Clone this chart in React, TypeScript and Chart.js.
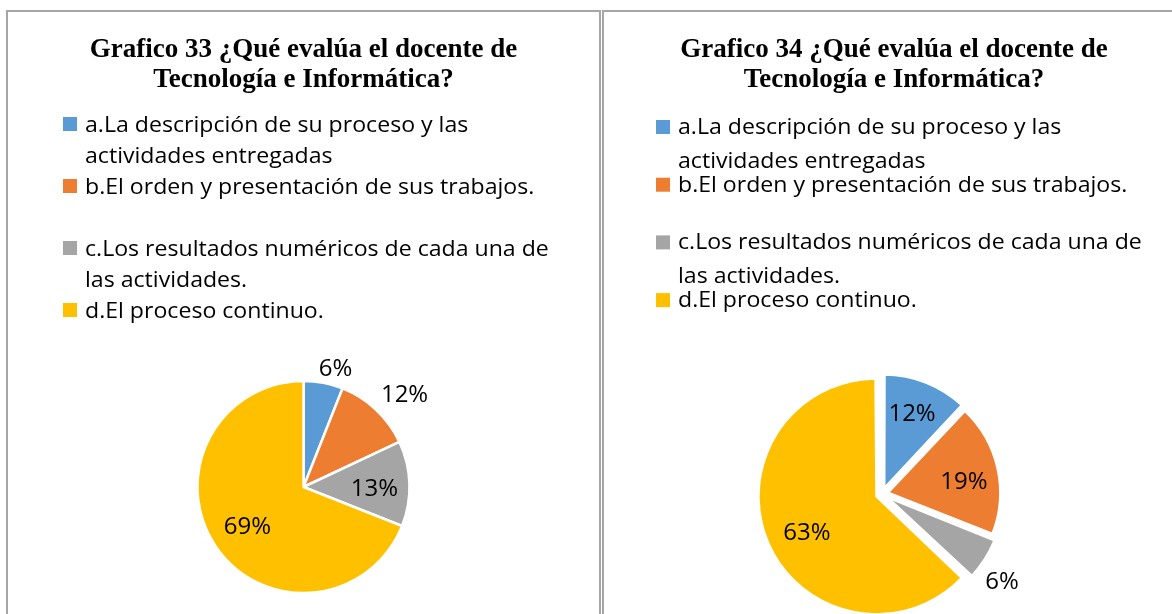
import React, { useEffect, useRef } from "react";
import { Chart, registerables } from "chart.js";

Chart.register(...registerables);

// ---- data ----
const categories = [
  "a.La descripción de su proceso y las actividades entregadas",
  "b.El orden y presentación de sus trabajos.",
  "c.Los resultados numéricos de cada una de las actividades.",
  "d.El proceso continuo.",
];
const sliceColors = ["#5B9BD5", "#ED7D31", "#A5A5A5", "#FFC000"];

const title33 = ["Grafico 33 ¿Qué evalúa el docente de", "Tecnología e Informática?"];
const values33 = [6, 12, 13, 69];

const title34 = ["Grafico 34 ¿Qué evalúa el docente de", "Tecnología e Informática?"];
const values34 = [12, 19, 6, 63];

type PanelCfg = {
  title: string[];
  values: number[];
  width: number;
  height: number;
  radius: number;
  borderWidth: number;
  offset: number;
  padding: { left: number; right: number; top: number; bottom: number };
  titleX: number;
  titleY: number;
  titleLineH: number;
  boxX: number;
  textX: number;
  legendY: number;
  legendSlot: number;
  legendLineH: number;
  baselineOff: number;
  valuePos: [number, number][];
};

const TITLE_FONT = 'bold 27px "Liberation Serif", "Times New Roman", serif';
const LEGEND_FONT = '22px "Open Sans", "Noto Sans", sans-serif';
const LEGEND_SCALE_X = 1.05;
const LEGEND_MAX_W = 480;
const BOX = 14;
const VALUE_FONT = '24px "Open Sans", "Noto Sans", sans-serif';

function wrapText(ctx: CanvasRenderingContext2D, text: string, maxW: number): string[] {
  const words = text.split(" ");
  const lines: string[] = [];
  let cur = "";
  for (const w of words) {
    const test = cur ? cur + " " + w : w;
    if (cur && ctx.measureText(test).width > maxW) {
      lines.push(cur);
      cur = w;
    } else {
      cur = test;
    }
  }
  if (cur) lines.push(cur);
  return lines;
}

function makeDecor(cfg: PanelCfg) {
  return {
    id: "panelDecor",
    afterDraw(chart: any) {
      const ctx: CanvasRenderingContext2D = chart.ctx;
      ctx.save();
      // title
      ctx.fillStyle = "#000";
      ctx.font = TITLE_FONT;
      ctx.textAlign = "center";
      ctx.textBaseline = "alphabetic";
      cfg.title.forEach((line, i) => ctx.fillText(line, cfg.titleX, cfg.titleY + i * cfg.titleLineH));

      // legend
      const labels: string[] = chart.data.labels;
      const colors: string[] = chart.data.datasets[0].backgroundColor;
      ctx.font = LEGEND_FONT;
      ctx.textAlign = "left";
      labels.forEach((lab, i) => {
        const cy = cfg.legendY + i * cfg.legendSlot;
        ctx.fillStyle = colors[i];
        ctx.fillRect(cfg.boxX, cy - BOX / 2, BOX, BOX);
        ctx.fillStyle = "#000";
        const lines = wrapText(ctx, lab, LEGEND_MAX_W / LEGEND_SCALE_X);
        lines.forEach((ln, k) => {
          ctx.save();
          ctx.translate(cfg.textX, cy + cfg.baselineOff + k * cfg.legendLineH);
          ctx.scale(LEGEND_SCALE_X, 1);
          ctx.fillText(ln, 0, 0);
          ctx.restore();
        });
      });

      // value labels
      const meta = chart.getDatasetMeta(0);
      const data: number[] = chart.data.datasets[0].data;
      const total = data.reduce((s, v) => s + v, 0);
      ctx.font = VALUE_FONT;
      ctx.textAlign = "center";
      ctx.textBaseline = "middle";
      ctx.fillStyle = "#000";
      meta.data.forEach((arc: any, i: number) => {
        const p = arc.getProps(["x", "y", "startAngle", "endAngle", "outerRadius"], true);
        const [f, sh] = cfg.valuePos[i];
        const a = (p.startAngle + p.endAngle) / 2 + (sh * Math.PI) / 180;
        const r = p.outerRadius * f;
        ctx.fillText(Math.round((data[i] / total) * 100) + "%", p.x + Math.cos(a) * r, p.y + Math.sin(a) * r);
      });
      ctx.restore();
    },
  };
}

function PiePanel({ cfg }: { cfg: PanelCfg }) {
  const ref = useRef<HTMLCanvasElement | null>(null);
  useEffect(() => {
    const chart = new Chart(ref.current as HTMLCanvasElement, {
      type: "pie",
      data: {
        labels: categories,
        datasets: [
          {
            data: cfg.values,
            backgroundColor: sliceColors,
            borderColor: "#ffffff",
            borderWidth: cfg.borderWidth,
            offset: cfg.offset,
            hoverOffset: 0,
            radius: cfg.radius,
          } as any,
        ],
      },
      options: {
        responsive: false,
        animation: false,
        events: [],
        layout: { padding: cfg.padding },
        plugins: {
          legend: { display: false },
          tooltip: { enabled: false },
          title: { display: false },
        },
      },
      plugins: [makeDecor(cfg)],
    });
    return () => chart.destroy();
  }, []);
  return (
    <canvas
      ref={ref}
      width={cfg.width}
      height={cfg.height}
      style={{ display: "block", width: cfg.width, height: cfg.height }}
    />
  );
}

const cfg33: PanelCfg = {
  title: title33,
  values: values33,
  width: 591,
  height: 602,
  radius: 106,
  borderWidth: 2.5,
  offset: 0,
  padding: { left: 0, right: 0, top: 348, bottom: 0 },
  titleX: 295.5,
  titleY: 45,
  titleLineH: 30,
  boxX: 55,
  textX: 77,
  legendY: 112,
  legendSlot: 62,
  legendLineH: 30.5,
  baselineOff: 8,
  valuePos: [
    [1.154, 4.4],
    [1.289, 4.5],
    [0.67, 3.4],
    [0.649, -1.3],
  ],
};

const cfg34: PanelCfg = {
  title: title34,
  values: values34,
  width: 580,
  height: 602,
  radius: 112,
  borderWidth: 2.5,
  offset: 24,
  padding: { left: 0, right: 24, top: 362, bottom: 0 },
  titleX: 290,
  titleY: 45,
  titleLineH: 30,
  boxX: 52,
  textX: 74,
  legendY: 115,
  legendSlot: 57.7,
  legendLineH: 33.5,
  baselineOff: 7,
  valuePos: [
    [0.763, -1],
    [0.74, 4.3],
    [1.329, 3.9],
    [0.755, -4.1],
  ],
};

const BORDER = "2px solid #a6a6a6";

export default function App() {
  return (
    <div
      style={{
        position: "fixed",
        left: 0,
        top: 0,
        width: 1172,
        height: 614,
        overflow: "hidden",
        background: "#ffffff",
      }}
    >
      <div
        style={{
          position: "absolute",
          left: 6,
          top: 10,
          width: 591,
          height: 620,
          borderLeft: BORDER,
          borderTop: BORDER,
          borderRight: BORDER,
        }}
      >
        <PiePanel cfg={cfg33} />
      </div>
      <div
        style={{
          position: "absolute",
          left: 602,
          top: 10,
          width: 600,
          height: 620,
          borderLeft: BORDER,
          borderTop: BORDER,
        }}
      >
        <PiePanel cfg={cfg34} />
      </div>
    </div>
  );
}
